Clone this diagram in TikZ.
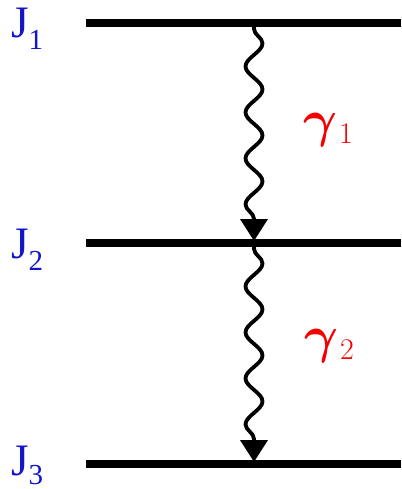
\RequirePackage{fix-cm}
\documentclass[tikz,border=0pt]{standalone}
\usepackage{fontspec}
\usepackage{bm}
\newfontfamily\timesfont{Liberation Serif}
\usetikzlibrary{decorations.pathmorphing,arrows.meta}
\definecolor{jblue}{RGB}{20,20,200}
\definecolor{gred}{RGB}{245,0,0}
\tikzset{
  level/.style={line width=8pt},
  jlabel/.style={anchor=base west,inner sep=0pt,text=jblue,font=\timesfont\fontsize{45}{45}\selectfont},
  glabel/.style={anchor=base west,inner sep=0pt,text=gred,font=\fontsize{52}{52}\selectfont},
  photon/.style={line width=3.8pt,decorate,
    decoration={snake,amplitude=8.5pt,segment length=46pt,pre length=2pt,post length=20pt}},
  tip/.style={-{Triangle[length=22pt,width=27pt]}}
}
\newcommand{\jsub}[1]{\raisebox{-12pt}{\fontsize{29}{29}\selectfont #1}}
\newcommand{\gsub}[1]{\hspace{2pt}\raisebox{-7pt}{\fontsize{30}{30}\selectfont #1}}
\begin{document}
\begin{tikzpicture}[x=1pt,y=-1pt]
\useasboundingbox (0,0) rectangle (401,489);
% levels
\coordinate (L1a) at (86,23);  \coordinate (L1b) at (401,23);
\coordinate (L2a) at (86,243); \coordinate (L2b) at (401,243);
\coordinate (L3a) at (86,464); \coordinate (L3b) at (401,464);
\draw[level] (L1a) -- (L1b);
\draw[level] (L2a) -- (L2b);
\draw[level] (L3a) -- (L3b);
% labels
\node[jlabel] (J1) at (11,38) {J\jsub{1}};
\node[jlabel] (J2) at (11,258) {J\jsub{2}};
\node[jlabel] (J3) at (11,475) {J\raisebox{-9pt}{\fontsize{29}{29}\selectfont 3}};
\node[glabel] (g1) at (303,137) {$\bm{\gamma}$\gsub{1}};
\node[glabel] (g2) at (304,352) {$\bm{\gamma}$\gsub{2}};
% photons
\coordinate (s1) at (254,27);  \coordinate (e1) at (254,241);
\coordinate (s2) at (254,247); \coordinate (e2) at (254,462);
\draw[photon,tip] (s1) -- (e1);
\draw[photon,tip] (s2) -- (e2);
\end{tikzpicture}
\end{document}
